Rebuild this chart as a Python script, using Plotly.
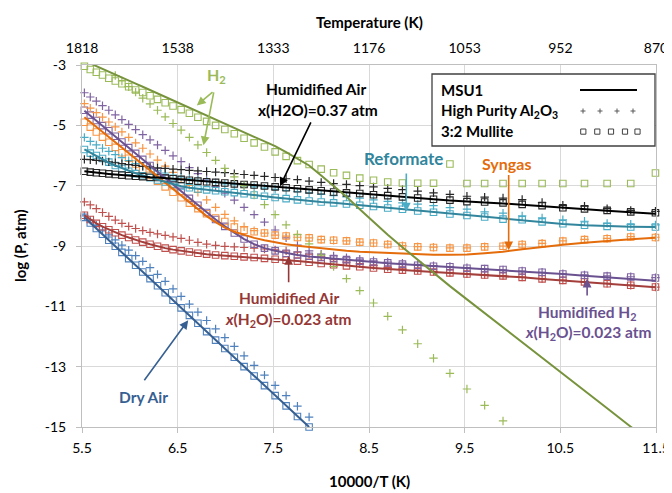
import plotly.graph_objects as go

# ---------------- data ----------------
T_K = [1810, 1790, 1770, 1750, 1730, 1710, 1690, 1670, 1650, 1630, 1610, 1590,
       1570, 1550, 1530, 1510, 1490, 1470, 1450, 1430, 1410, 1390, 1370, 1350,
       1330, 1310, 1290, 1270, 1250, 1230, 1210, 1190, 1170, 1150, 1130, 1110,
       1090, 1070, 1050, 1030, 1010, 990, 970, 950, 930, 910, 890, 870]

X_TICKS = [5.5, 6.5, 7.5, 8.5, 9.5, 10.5, 11.5]
X_TICK_TEXT = ["5.5", "6.5", "7.5", "8.5", "9.5", "10.5", "11.5"]
TOP_TICK_TEXT = ["1818", "1538", "1333", "1176", "1053", "952", "870"]
Y_TICKS = [-3, -5, -7, -9, -11, -13, -15]
Y_TICK_TEXT = ["-3", "-5", "-7", "-9", "-11", "-13", "-15"]

# H2
h2_msu1 = [-2.86, -2.95, -3.04, -3.13, -3.22, -3.32, -3.41, -3.52, -3.62, -3.72, -3.83, -3.94,
           -4.06, -4.17, -4.29, -4.42, -4.54, -4.67, -4.81, -4.94, -5.08, -5.23, -5.38, -5.53,
           -5.69, -5.89, -6.10, -6.33, -6.66, -7.00, -7.37, -7.78, -8.21, -8.63, -9.04, -9.46,
           -9.89, -10.33, -10.77, -11.23, -11.70, -12.19, -12.70, -13.24, -13.80, -14.38, -14.99, -15.62]
h2_al2o3 = [None, None, None, None, None, -3.35, -3.53, -3.72, -3.90, -4.10, -4.29, -4.50,
            -4.72, -4.94, -5.16, -5.40, -5.65, -5.90, -6.16, -6.43, -6.71, -7.00, -7.31, -7.63,
            -7.96, -8.30, -8.62, -8.93, -9.30, -9.68, -10.08, -10.48, -10.89, -11.33, -11.78, -12.24,
            -12.72, -13.22, -13.74, -14.28, -14.80, None, None, None, None, None, None, None]
h2_mullite = [-3.04, -3.15, -3.24, -3.33, -3.44, -3.53, -3.62, -3.72, -3.83, -3.91, -4.02, -4.14,
              -4.25, -4.36, -4.48, -4.60, -4.73, -4.87, -5.00, -5.14, -5.28, -5.43, -5.58, -5.72,
              -5.88, -6.03, -6.17, -6.30, -6.45, -6.57, -6.66, -6.75, -6.82, -6.88, -6.91, -6.92,
              -6.92, -6.28, -6.93, -6.93, -6.93, -6.93, -6.93, -6.93, -6.93, -6.93, -6.93, -6.58]

# Humidified air x(H2O)=0.37
ha37_msu1 = [-6.52, -6.55, -6.57, -6.59, -6.61, -6.63, -6.65, -6.67, -6.69, -6.70, -6.72, -6.73,
             -6.75, -6.77, -6.79, -6.82, -6.85, -6.87, -6.89, -6.91, -6.94, -6.96, -6.98, -7.01,
             -7.04, -7.07, -7.10, -7.14, -7.17, -7.21, -7.24, -7.27, -7.30, -7.34, -7.38, -7.41,
             -7.45, -7.49, -7.53, -7.56, -7.59, -7.63, -7.67, -7.73, -7.78, -7.83, -7.88, -7.93]
ha37_al2o3 = [-6.13, -6.14, -6.16, -6.18, -6.21, -6.24, -6.27, -6.30, -6.33, -6.36, -6.38, -6.41,
              -6.43, -6.45, -6.47, -6.49, -6.51, -6.53, -6.55, -6.57, -6.60, -6.63, -6.66, -6.69,
              -6.73, -6.77, -6.80, -6.85, -6.89, -6.93, -6.96, -7.00, -7.04, -7.09, -7.13, -7.18,
              -7.24, -7.29, -7.35, -7.38, -7.41, -7.46, -7.56, -7.65, -7.68, -7.76, -7.82, -7.85]
ha37_mullite = [-6.52, -6.55, -6.57, -6.59, -6.61, -6.63, -6.65, -6.67, -6.69, -6.70, -6.72, -6.73,
                -6.75, -6.77, -6.79, -6.82, -6.85, -6.87, -6.89, -6.91, -6.94, -6.96, -6.98, -7.01,
                -7.04, -7.07, -7.10, -7.14, -7.17, -7.21, -7.24, -7.26, -7.30, -7.33, -7.37, -7.41,
                -7.45, -7.48, -7.53, -7.54, -7.57, -7.62, -7.66, -7.73, -7.77, -7.82, -7.87, -7.90]

# Reformate
ref_msu1 = [-5.80, -5.91, -6.02, -6.13, -6.24, -6.33, -6.42, -6.51, -6.59, -6.66, -6.73, -6.80,
            -6.88, -6.95, -7.02, -7.07, -7.11, -7.14, -7.17, -7.20, -7.23, -7.27, -7.31, -7.35,
            -7.39, -7.43, -7.47, -7.51, -7.54, -7.57, -7.61, -7.65, -7.69, -7.74, -7.78, -7.84,
            -7.88, -7.94, -7.99, -8.05, -8.10, -8.16, -8.22, -8.27, -8.31, -8.34, -8.36, -8.37]
ref_al2o3 = [-5.40, -5.53, -5.65, -5.76, -5.86, -5.97, -6.07, -6.17, -6.27, -6.36, -6.44, -6.51,
             -6.58, -6.65, -6.71, -6.77, -6.82, -6.86, -6.90, -6.94, -6.97, -7.01, -7.04, -7.08,
             -7.12, -7.16, -7.20, -7.24, -7.29, -7.33, -7.37, -7.41, -7.47, -7.52, -7.57, -7.61,
             -7.66, -7.73, -7.78, -7.87, -7.91, -8.00, -8.07, -8.13, -8.18, -8.25, -8.28, -8.30]
ref_mullite = [-5.80, -5.92, -6.00, -6.10, -6.22, -6.33, -6.43, -6.52, -6.60, -6.67, -6.74, -6.81,
               -6.88, -6.95, -7.01, -7.07, -7.11, -7.14, -7.17, -7.20, -7.23, -7.27, -7.31, -7.35,
               -7.39, -7.43, -7.47, -7.51, -7.54, -7.57, -7.61, -7.65, -7.69, -7.74, -7.78, -7.84,
               -7.88, -7.94, -7.99, -8.04, -8.11, -8.13, -8.20, -8.26, -8.31, -8.35, -8.37, -8.37]

# Syngas
syn_msu1 = [-4.73, -4.89, -5.05, -5.22, -5.39, -5.56, -5.74, -5.92, -6.11, -6.30, -6.50, -6.70,
            -6.91, -7.12, -7.34, -7.57, -7.79, -8.01, -8.21, -8.39, -8.53, -8.64, -8.73, -8.81,
            -8.88, -8.94, -8.99, -9.03, -9.08, -9.13, -9.16, -9.19, -9.21, -9.24, -9.26, -9.28,
            -9.29, -9.29, -9.28, -9.24, -9.19, -9.11, -9.03, -8.96, -8.89, -8.83, -8.78, -8.73]
syn_al2o3 = [-4.28, -4.43, -4.58, -4.73, -4.89, -5.05, -5.22, -5.40, -5.58, -5.76, -5.95, -6.15,
             -6.35, -6.56, -6.77, -6.99, -7.22, -7.47, -7.72, -7.95, -8.17, -8.36, -8.49, -8.57,
             -8.64, -8.67, -8.71, -8.73, -8.79, -8.81, -8.83, -8.87, -8.90, -8.94, -8.99, -9.02,
             -9.04, -9.06, -9.06, -9.02, -9.00, -8.94, -8.91, -8.83, -8.78, -8.75, -8.69, -8.71]
syn_mullite = [-4.90, -5.06, -5.22, -5.39, -5.56, -5.73, -5.91, -6.09, -6.28, -6.47, -6.66, -6.85,
               -7.04, -7.22, -7.40, -7.58, -7.76, -7.93, -8.07, -8.19, -8.37, -8.48, -8.53, -8.57,
               -8.64, -8.67, -8.72, -8.73, -8.79, -8.81, -8.83, -8.87, -8.90, -8.95, -9.00, -9.03,
               -9.05, -9.07, -9.07, -9.03, -9.01, -8.95, -8.92, -8.84, -8.79, -8.76, -8.70, -8.72]

# Humidified H2
hh2_msu1 = [-4.52, -4.68, -4.85, -5.02, -5.19, -5.37, -5.55, -5.74, -5.93, -6.13, -6.33, -6.54,
            -6.75, -6.97, -7.19, -7.42, -7.65, -7.89, -8.12, -8.35, -8.57, -8.77, -8.94, -9.07,
            -9.16, -9.24, -9.30, -9.35, -9.38, -9.42, -9.46, -9.50, -9.53, -9.57, -9.60, -9.64,
            -9.67, -9.70, -9.74, -9.77, -9.80, -9.84, -9.88, -9.93, -9.99, -10.04, -10.09, -10.15]
hh2_al2o3 = [-3.92, -4.06, -4.20, -4.35, -4.50, -4.65, -4.81, -4.97, -5.14, -5.31, -5.48, -5.65,
             -5.83, -6.01, -6.20, -6.40, -6.60, -6.81, -7.03, -7.25, -7.48, -7.72, -7.96, -8.21,
             -8.47, -8.73, -8.97, -9.16, -9.27, -9.33, -9.39, -9.44, -9.49, -9.53, -9.57, -9.61,
             -9.65, -9.68, -9.72, -9.76, -9.79, -9.83, -9.87, -9.92, -9.96, -9.99, -10.02, -10.05]
hh2_mullite = [-4.50, -4.66, -4.84, -5.01, -5.18, -5.36, -5.55, -5.74, -5.93, -6.13, -6.33, -6.54,
               -6.75, -6.97, -7.19, -7.42, -7.65, -7.89, -8.12, -8.35, -8.57, -8.77, -8.94, -9.07,
               -9.16, -9.24, -9.30, -9.34, -9.38, -9.42, -9.45, -9.50, -9.53, -9.56, -9.60, -9.64,
               -9.67, -9.69, -9.74, -9.75, -9.78, -9.83, -9.87, -9.93, -9.97, -10.00, -10.03, -10.06]

# Humidified air x(H2O)=0.023
ha023_msu1 = [-7.98, -8.12, -8.25, -8.36, -8.46, -8.56, -8.64, -8.72, -8.80, -8.87, -8.94, -9.01,
              -9.07, -9.12, -9.16, -9.20, -9.24, -9.27, -9.30, -9.32, -9.34, -9.36, -9.38, -9.41,
              -9.44, -9.47, -9.50, -9.54, -9.58, -9.62, -9.66, -9.69, -9.73, -9.77, -9.80, -9.83,
              -9.86, -9.89, -9.93, -9.96, -9.99, -10.04, -10.09, -10.14, -10.19, -10.25, -10.31, -10.37]
ha023_al2o3 = [-7.54, -7.64, -7.76, -7.89, -8.02, -8.14, -8.25, -8.35, -8.42, -8.49, -8.55, -8.60,
               -8.65, -8.70, -8.75, -8.81, -8.88, -8.94, -8.98, -9.01, -9.03, -9.05, -9.07, -9.10,
               -9.13, -9.16, -9.20, -9.27, -9.36, -9.45, -9.53, -9.59, -9.65, -9.71, -9.76, -9.80,
               -9.84, -9.88, -9.92, -9.95, -9.98, -10.03, -10.08, -10.13, -10.18, -10.24, -10.30, -10.36]
ha023_mullite = [-7.98, -8.12, -8.25, -8.36, -8.46, -8.56, -8.64, -8.72, -8.80, -8.87, -8.94, -9.01,
                 -9.07, -9.12, -9.16, -9.20, -9.24, -9.27, -9.30, -9.32, -9.34, -9.36, -9.38, -9.41,
                 -9.44, -9.47, -9.50, -9.54, -9.58, -9.62, -9.66, -9.69, -9.73, -9.77, -9.80, -9.83,
                 -9.86, -9.89, -9.93, -9.96, -9.99, -10.04, -10.09, -10.14, -10.19, -10.25, -10.30, -10.36]

# Dry air
dry_msu1 = [-8.05, -8.24, -8.42, -8.61, -8.81, -9.01, -9.21, -9.42, -9.64, -9.86, -10.08, -10.32,
            -10.55, -10.80, -11.05, -11.30, -11.56, -11.84, -12.12, -12.40, -12.69, -13.00, -13.31, -13.63,
            -13.96, -14.30, -14.65, -15.00] + [None] * 20
dry_al2o3 = [-8.00, -8.15, -8.31, -8.47, -8.63, -8.80, -8.97, -9.14, -9.32, -9.51, -9.72, -9.94,
             -10.17, -10.42, -10.67, -10.93, -11.19, -11.47, -11.75, -12.04, -12.33, -12.64, -12.96, -13.28,
             -13.62, -13.96, -14.31, -14.67] + [None] * 20
dry_mullite = [-8.05, -8.24, -8.42, -8.61, -8.81, -9.01, -9.21, -9.42, -9.64, -9.86, -10.08, -10.32,
               -10.55, -10.80, -11.05, -11.30, -11.56, -11.84, -12.12, -12.40, -12.69, -13.00, -13.31, -13.63,
               -13.96, -14.30, -14.65, -15.00] + [None] * 20

X = [10000.0 / t for t in T_K]

# colours: (line colour, marker colour)
SERIES = [
    ("dry", dry_msu1, dry_al2o3, dry_mullite, "#376092", "#4F81BD"),
    ("ha023", ha023_msu1, ha023_al2o3, ha023_mullite, "#A33E3B", "#C0504D"),
    ("hh2", hh2_msu1, hh2_al2o3, hh2_mullite, "#6A5190", "#8064A2"),
    ("syn", syn_msu1, syn_al2o3, syn_mullite, "#E46C0A", "#F79646"),
    ("ref", ref_msu1, ref_al2o3, ref_mullite, "#31859C", "#4BACC6"),
    ("ha37", ha37_msu1, ha37_al2o3, ha37_mullite, "#000000", "#262626"),
    ("h2", h2_msu1, h2_al2o3, h2_mullite, "#77933C", "#9BBB59"),
]

FONT = "Lato"

fig = go.Figure()
for name, ln, al, mu, lc, mc in SERIES:
    fig.add_trace(go.Scatter(
        x=X, y=al, mode="markers", showlegend=False, hoverinfo="skip", cliponaxis=False,
        marker=dict(symbol="cross-thin-open", size=6, color=mc, line=dict(color=mc, width=1.2))))
    fig.add_trace(go.Scatter(
        x=X, y=mu, mode="markers", showlegend=False, hoverinfo="skip", cliponaxis=False,
        marker=dict(symbol="square-open", size=6.5, color=mc, line=dict(color=mc, width=1.1))))
for name, ln, al, mu, lc, mc in SERIES:
    fig.add_trace(go.Scatter(
        x=X, y=ln, mode="lines", showlegend=False, hoverinfo="skip",
        line=dict(color=lc, width=2)))

# dummy trace for the top (temperature) axis
fig.add_trace(go.Scatter(x=[X_TICKS[0]], y=[-3], xaxis="x2", mode="markers",
                         marker=dict(opacity=0), showlegend=False, hoverinfo="skip"))

# the page places the figure 8 px from the window corner
OFF = 8
FIG_W, FIG_H = 672 - OFF, 493 - OFF
# plot area in window pixels
L, R, TOP, BOT = 82, 656, 65, 427
W, H = R - L, BOT - TOP


def PX(px):
    return (px - L) / W


def PY(py):
    return (BOT - py) / H


shapes = []
# custom legend box
shapes.append(dict(type="rect", xref="paper", yref="paper", x0=PX(432), x1=PX(655),
                   y0=PY(146), y1=PY(74), line=dict(color="#404040", width=1.3),
                   fillcolor="white", layer="above"))
shapes.append(dict(type="line", xref="paper", yref="paper", x0=PX(580), x1=PX(637),
                   y0=PY(90), y1=PY(90), line=dict(color="black", width=2.2), layer="above"))
for cx in [583, 600, 617, 633]:
    shapes.append(dict(type="line", xref="paper", yref="paper", x0=PX(cx - 2.5), x1=PX(cx + 2.5),
                       y0=PY(111), y1=PY(111), line=dict(color="#595959", width=1), layer="above"))
    shapes.append(dict(type="line", xref="paper", yref="paper", x0=PX(cx), x1=PX(cx),
                       y0=PY(108.5), y1=PY(113.5), line=dict(color="#595959", width=1), layer="above"))
for cx in [583.3, 597.3, 611, 625, 637.5]:
    shapes.append(dict(type="rect", xref="paper", yref="paper", x0=PX(cx - 2.6), x1=PX(cx + 2.6),
                       y0=PY(134.2), y1=PY(129), line=dict(color="#404040", width=1), layer="above"))

ann = []


def txt(x, y, s, color, size=15, xref="x", yref="y", **kw):
    d = dict(x=x, y=y, xref=xref, yref=yref, text=s, showarrow=False,
             xanchor="center", yanchor="middle",
             font=dict(family=FONT, size=size, color=color))
    d.update(kw)
    ann.append(d)


def arrow(tx, ty, hx, hy, color):
    ann.append(dict(x=hx, y=hy, ax=tx, ay=ty, xref="x", yref="y", axref="x", ayref="y",
                    text="", showarrow=True, arrowhead=2, arrowsize=1.1, arrowwidth=1.6,
                    arrowcolor=color, standoff=0, startstandoff=0))


# legend texts
txt(PX(439), PY(90), "<b>MSU1</b>", "black", 15, "paper", "paper", xanchor="left")
txt(PX(439), PY(111), "<b>High Purity Al<sub>2</sub>O<sub>3</sub></b>", "black", 15, "paper", "paper", xanchor="left")
txt(PX(439), PY(131.5), "<b>3:2 Mullite</b>", "black", 15, "paper", "paper", xanchor="left")

# series labels
txt(6.91, -3.34, "<b>H<sub>2</sub></b>", "#9BBB59", 16)
arrow(6.88, -3.86, 6.70, -4.34, "#9BBB59")
arrow(6.88, -3.86, 6.77, -5.66, "#9BBB59")

txt(7.946, -3.81, "<b>Humidified Air</b>", "black", 15.5)
txt(7.967, -4.50, "<b>x(H2O)=0.37 atm</b>", "black", 15.5)
arrow(7.90, -4.85, 7.57, -7.02, "black")

txt(8.864, -6.09, "<b>Reformate</b>", "#31859C", 17)
arrow(8.89, -6.55, 8.89, -7.86, "#4BACC6")

txt(9.936, -6.27, "<b>Syngas</b>", "#E46C0A", 16)
arrow(9.96, -6.60, 9.96, -9.14, "#E46C0A")

txt(7.666, -10.73, "<b>Humidified Air</b>", "#953735", 15.5)
txt(7.655, -11.46, "<b><i>x</i>(H<sub>2</sub>O)=0.023 atm</b>", "#953735", 15.5)
arrow(7.66, -10.25, 7.66, -9.33, "#953735")

txt(10.785, -11.23, "<b>Humidified H<sub>2</sub></b>", "#6A5190", 15.5)
txt(10.785, -11.89, "<b><i>x</i>(H<sub>2</sub>O)=0.023 atm</b>", "#6A5190", 15.5)
arrow(10.78, -10.69, 10.78, -10.08, "#6A5190")

txt(6.143, -14.0, "<b>Dry Air</b>", "#376092", 15.5)
arrow(6.14, -13.50, 6.61, -11.46, "#376092")

# axis titles
txt(0.5, PY(481), "<b>10000/T (K)</b>", "black", 15, "paper", "paper")
txt(0.5, PY(22), "<b>Temperature (K)</b>", "black", 15, "paper", "paper")
txt(PX(20), 0.5, "<b>log (P, atm)</b>", "black", 15, "paper", "paper", textangle=-90)

fig.update_layout(
    width=FIG_W, height=FIG_H,
    margin=dict(l=L - OFF, r=FIG_W - (R - OFF), t=TOP - OFF, b=FIG_H - (BOT - OFF)),
    paper_bgcolor="white", plot_bgcolor="white",
    font=dict(family=FONT, size=14, color="black"),
    showlegend=False,
    shapes=shapes, annotations=ann,
    xaxis=dict(range=[5.5, 11.5], tickvals=X_TICKS, ticktext=X_TICK_TEXT,
               showgrid=True, gridcolor="#D9D9D9", gridwidth=1, zeroline=False,
               showline=True, linecolor="#BFBFBF", linewidth=1, mirror=True,
               ticks="outside", ticklen=5, tickcolor="#BFBFBF", ticklabelstandoff=3,
               tickfont=dict(family=FONT, size=14, color="black"), automargin=False),
    xaxis2=dict(range=[5.5, 11.5], overlaying="x", side="top", tickvals=X_TICKS,
                ticktext=TOP_TICK_TEXT, showgrid=False, zeroline=False, showline=False,
                ticks="", ticklabelstandoff=8,
                tickfont=dict(family=FONT, size=14, color="black"), automargin=False),
    yaxis=dict(range=[-15, -3], tickvals=Y_TICKS, ticktext=Y_TICK_TEXT,
               showgrid=True, gridcolor="#D9D9D9", gridwidth=1, zeroline=False,
               showline=True, linecolor="#BFBFBF", linewidth=1, mirror=True,
               ticks="outside", ticklen=5, tickcolor="#BFBFBF", ticklabelstandoff=7,
               tickfont=dict(family=FONT, size=14, color="black"), automargin=False),
)

fig.write_html("out.html")
